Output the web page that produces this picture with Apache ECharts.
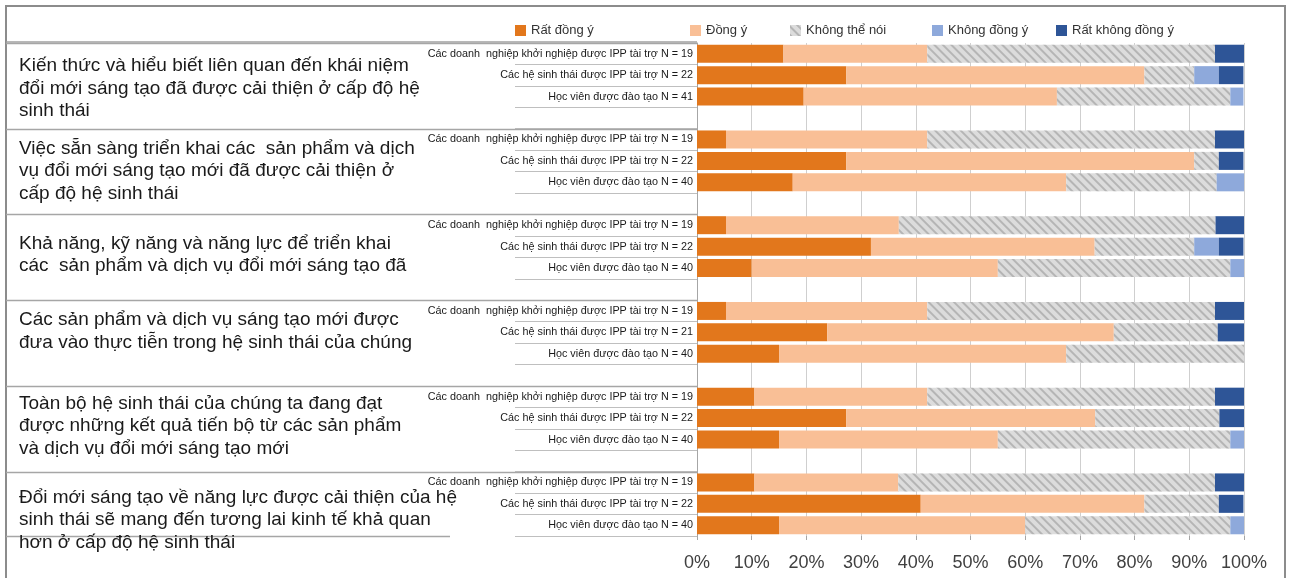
<!DOCTYPE html>
<html><head><meta charset="utf-8">
<script src="https://cdn.jsdelivr.net/npm/echarts@6/dist/echarts.min.js"></script>
<style>html,body{margin:0;padding:0;background:#fff}#c{width:1292px;height:578px}</style>
</head><body><div id="c"></div>
<script>
const groupTitles = [
  ["Kiến thức và hiểu biết liên quan đến khái niệm", "đổi mới sáng tạo đã được cải thiện ở cấp độ hệ", "sinh thái"],
  ["Việc sẵn sàng triển khai các  sản phẩm và dịch", "vụ đổi mới sáng tạo mới đã được cải thiện ở", "cấp độ hệ sinh thái"],
  ["Khả năng, kỹ năng và năng lực để triển khai", "các  sản phẩm và dịch vụ đổi mới sáng tạo đã"],
  ["Các sản phẩm và dịch vụ sáng tạo mới được", "đưa vào thực tiễn trong hệ sinh thái của chúng"],
  ["Toàn bộ hệ sinh thái của chúng ta đang đạt", "được những kết quả tiến bộ từ các sản phẩm", "và dịch vụ đổi mới sáng tạo mới"],
  ["Đổi mới sáng tạo về năng lực được cải thiện của hệ", "sinh thái sẽ mang đến tương lai kinh tế khả quan", "hơn ở cấp độ hệ sinh thái"]
];
const rowLabels = [
  "Các doanh  nghiệp khởi nghiệp được IPP tài trợ N = 19", "Các hệ sinh thái được IPP tài trợ N = 22", "Học viên được đào tạo N = 41",
  "Các doanh  nghiệp khởi nghiệp được IPP tài trợ N = 19", "Các hệ sinh thái được IPP tài trợ N = 22", "Học viên được đào tạo N = 40",
  "Các doanh  nghiệp khởi nghiệp được IPP tài trợ N = 19", "Các hệ sinh thái được IPP tài trợ N = 22", "Học viên được đào tạo N = 40",
  "Các doanh  nghiệp khởi nghiệp được IPP tài trợ N = 19", "Các hệ sinh thái được IPP tài trợ N = 21", "Học viên được đào tạo N = 40",
  "Các doanh  nghiệp khởi nghiệp được IPP tài trợ N = 19", "Các hệ sinh thái được IPP tài trợ N = 22", "Học viên được đào tạo N = 40",
  "Các doanh  nghiệp khởi nghiệp được IPP tài trợ N = 19", "Các hệ sinh thái được IPP tài trợ N = 22", "Học viên được đào tạo N = 40"
];
const seriesNames = ["Rất đồng ý", "Đồng ý", "Không thể nói", "Không đồng ý", "Rất không đồng ý"];
const stronglyAgree    = [15.8, 27.3, 19.5,  5.3, 27.3, 17.5,  5.3, 31.8, 10.0,  5.3, 23.8, 15.0, 10.5, 27.3, 15.0, 10.5, 40.9, 15.0];
const agree            = [26.3, 54.5, 46.3, 36.8, 63.6, 50.0, 31.6, 40.9, 45.0, 36.8, 52.4, 52.5, 31.6, 45.5, 40.0, 26.3, 40.9, 45.0];
const cannotSay        = [52.6,  9.1, 31.7, 52.6,  4.5, 27.5, 57.9, 18.2, 42.5, 52.6, 19.0, 32.5, 52.6, 22.7, 42.5, 57.9, 13.6, 37.5];
const disagree         = [ 0.0,  4.5,  2.4,  0.0,  0.0,  5.0,  0.0,  4.5,  2.5,  0.0,  0.0,  0.0,  0.0,  0.0,  2.5,  0.0,  0.0,  2.5];
const stronglyDisagree = [ 5.3,  4.5,  0.0,  5.3,  4.5,  0.0,  5.3,  4.5,  0.0,  5.3,  4.8,  0.0,  5.3,  4.5,  0.0,  5.3,  4.5,  0.0];

const colors = ['#E2771C', '#F9BF96', '#DCDCDC', '#8EA9DB', '#2E5597'];
const FONT = 'Liberation Sans, Arial, sans-serif';

function withGaps(arr) {
  const out = [];
  for (let g = 0; g < 6; g++) {
    for (let r = 0; r < 3; r++) out.push(arr[g * 3 + r]);
    if (g < 5) out.push(null);
  }
  return out;
}
const cats = withGaps(rowLabels).map(v => v === null ? '' : v);
const seriesData = [stronglyAgree, agree, cannotSay, disagree, stronglyDisagree];

const legendLefts = [515, 690, 790, 932, 1056];

const chart = echarts.init(document.getElementById('c'), null, {renderer: 'canvas'});
const option = {
  backgroundColor: '#fff',
  animation: false,
  textStyle: {fontFamily: FONT},
  legend: seriesNames.map((n, i) => ({
    data: [n], left: legendLefts[i], top: 24, padding: 0,
    itemWidth: 11, itemHeight: 11, icon: 'rect', itemGap: 0,
    textStyle: {fontSize: 13, color: '#333', fontFamily: FONT}
  })),
  grid: {left: 697, top: 43, width: 547, height: 493, containLabel: false},
  xAxis: {
    type: 'value', min: 0, max: 100, interval: 10,
    axisLine: {show: false},
    axisTick: {show: true, length: 4, lineStyle: {color: '#a6a6a6'}},
    axisLabel: {formatter: '{value}%', fontSize: 18, color: '#404040', margin: 18, fontFamily: FONT},
    splitLine: {show: true, lineStyle: {color: '#cfcfcf', width: 1}}
  },
  yAxis: {
    type: 'category', inverse: true, data: cats,
    axisLine: {show: true, lineStyle: {color: '#a6a6a6'}},
    axisTick: {show: true, interval: 0, length: 182, lineStyle: {color: '#bfbfbf'}},
    axisLabel: {interval: 0, fontSize: 10.8, color: '#1a1a1a', margin: 4, fontFamily: FONT}
  },
  series: seriesNames.map((n, i) => ({
    name: n, type: 'bar', stack: 'all', barWidth: 18,
    data: withGaps(seriesData[i]),
    itemStyle: i === 2 ? {
      color: colors[i],
      decal: {symbol: 'rect', symbolSize: 1, color: 'rgba(150,150,150,0.55)', dashArrayX: [1, 0], dashArrayY: [2, 4], rotation: Math.PI / 4}
    } : {color: colors[i]}
  }))
};
chart.setOption(option);

// decorations computed from the axis scale
const titleOffsets = [23, 20, 29, 20, 18, 26];
const pc = i => chart.convertToPixel({yAxisIndex: 0}, i);
const slotH = pc(1) - pc(0);
const axisX = chart.convertToPixel({xAxisIndex: 0}, 0);
const g = [];
const frameColor = '#8c8c8c';
g.push({type: 'polyline', shape: {points: [[6, 590], [6, 6], [1285, 6], [1285, 590]]}, style: {stroke: frameColor, lineWidth: 2, fill: null}, z: 100});
g.push({type: 'line', shape: {x1: 6, y1: 42, x2: axisX, y2: 42}, style: {stroke: '#a0a0a0', lineWidth: 1.5}, z: 100});
for (let k = 0; k < 6; k++) {
  const top = pc(k * 4) - slotH / 2;
  g.push({type: 'line', shape: {x1: 6, y1: Math.round(top) + 0.5, x2: axisX, y2: Math.round(top) + 0.5}, style: {stroke: '#a6a6a6', lineWidth: 1.5}, z: 100});
  groupTitles[k].forEach((t, j) => {
    g.push({type: 'text', x: 19, y: top + titleOffsets[k] + j * 22.3, z: 101,
      style: {text: t, fontSize: 19, fill: '#1a1a1a', fontFamily: FONT, verticalAlign: 'middle', align: 'left'}});
  });
}
const bottom = pc(22) + slotH / 2;
g.push({type: 'line', shape: {x1: 6, y1: Math.round(bottom) + 0.5, x2: 450, y2: Math.round(bottom) + 0.5}, style: {stroke: '#a6a6a6', lineWidth: 1.5}, z: 100});
chart.setOption({graphic: g});
</script>
</body></html>
